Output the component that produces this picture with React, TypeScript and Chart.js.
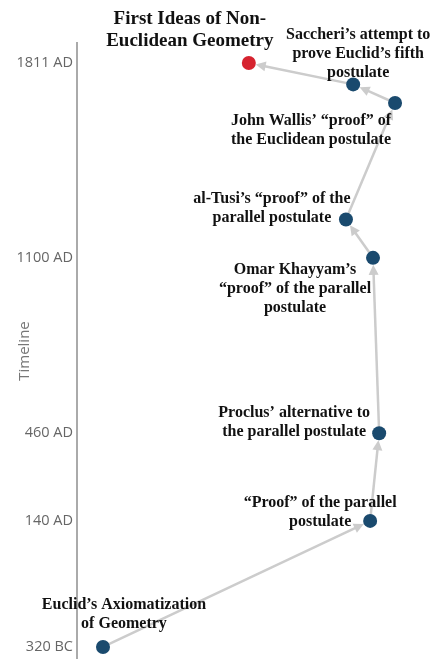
import React, { useEffect, useRef } from "react";
import { Chart, registerables } from "chart.js";

Chart.register(...registerables);

const events = [
  "Euclid’s Axiomatization|of Geometry",
  "“Proof” of the parallel|postulate",
  "Proclus’ alternative to|the parallel postulate",
  "Omar Khayyam’s|“proof” of the parallel|postulate",
  "al-Tusi’s “proof” of the|parallel postulate",
  "John Wallis’ “proof” of|the Euclidean postulate",
  "Saccheri’s attempt to|prove Euclid’s fifth|postulate",
  "First Ideas of Non-|Euclidean Geometry",
];
const years = [-320, 140, 460, 1100, 1240, 1665, 1733, 1811];
const xPos = [7.2, 81.2, 83.7, 82.0, 74.5, 88.1, 76.5, 47.6];
const tickYears = [-320, 140, 460, 1100, 1811];

// label layout: offset of first-line center from point (px)
const labelDx = [21, -50, -85, -78, -74, -84, 5, -59];
const labelDy = [-42, -18, -20, 12, -21, 18, -50, -44];

const BLUE = "#1a4a6e";
const RED = "#d6232f";

export default function App() {
  const ref = useRef<HTMLCanvasElement | null>(null);
  useEffect(() => {
    document.body.style.margin = "0";
    const canvas = ref.current!;
    const data = years.map((y, i) => ({ x: xPos[i], y }));
    const arrowPlugin = {
      id: "arrows",
      beforeDatasetsDraw(chart: any) {
        const ctx = chart.ctx;
        const meta = chart.getDatasetMeta(0);
        ctx.save();
        ctx.strokeStyle = "#cccccc";
        ctx.fillStyle = "#cccccc";
        ctx.lineWidth = 2.5;
        for (let i = 0; i < meta.data.length - 1; i++) {
          const a = meta.data[i];
          const b = meta.data[i + 1];
          const dx = b.x - a.x;
          const dy = b.y - a.y;
          const len = Math.hypot(dx, dy);
          const ux = dx / len;
          const uy = dy / len;
          const ex = b.x - ux * 7;
          const ey = b.y - uy * 7;
          const hl = 10;
          const hw = 5;
          ctx.beginPath();
          ctx.moveTo(a.x, a.y);
          ctx.lineTo(ex - ux * hl * 0.8, ey - uy * hl * 0.8);
          ctx.stroke();
          ctx.beginPath();
          ctx.moveTo(ex, ey);
          ctx.lineTo(ex - ux * hl - uy * hw, ey - uy * hl + ux * hw);
          ctx.lineTo(ex - ux * hl + uy * hw, ey - uy * hl - ux * hw);
          ctx.closePath();
          ctx.fill();
        }
        ctx.restore();
      },
      afterDatasetsDraw(chart: any) {
        const ctx = chart.ctx;
        const meta = chart.getDatasetMeta(0);
        ctx.save();
        ctx.fillStyle = "#111111";
        ctx.textAlign = "center";
        ctx.textBaseline = "middle";
        meta.data.forEach((p: any, i: number) => {
          const isTitle = i === events.length - 1;
          const fs = isTitle ? 19 : 16;
          const lh = isTitle ? 22 : 19;
          ctx.font = `bold ${fs}px "Liberation Serif", "Times New Roman", serif`;
          events[i].split("|").forEach((line, k) => {
            ctx.fillText(line, p.x + labelDx[i], p.y + labelDy[i] + k * lh);
          });
        });
        ctx.restore();
      },
    };
    const chart = new Chart(canvas, {
      type: "scatter",
      data: {
        datasets: [
          {
            data,
            pointRadius: 7,
            pointHoverRadius: 7,
            pointBorderWidth: 0,
            pointBackgroundColor: years.map((_, i) => (i === years.length - 1 ? RED : BLUE)),
            showLine: false,
            clip: false,
          },
        ],
      },
      options: {
        responsive: false,
        animation: false,
        layout: { autoPadding: false, padding: { top: 43, right: 0, bottom: 0, left: 0 } },
        plugins: { legend: { display: false }, tooltip: { enabled: false } },
        scales: {
          x: { type: "linear", min: 0, max: 100, display: false },
          y: {
            type: "linear",
            min: -364,
            max: 1884,
            afterBuildTicks: (s: any) => {
              s.ticks = tickYears.map((v) => ({ value: v }));
            },
            afterFit: (s: any) => {
              s.width = 77;
              s.paddingTop = 0;
              s.paddingBottom = 0;
            },
            ticks: {
              autoSkip: false,
              padding: 4,
              color: "#666666",
              font: { family: "'Open Sans', sans-serif", size: 14.5 },
              callback: (v: any) => (v < 0 ? `${-v} BC` : `${v} AD`),
            },
            grid: { display: false, drawTicks: false },
            border: { display: true, color: "#aaaaaa", width: 2 },
            title: {
              display: true,
              text: "Timeline",
              color: "#777777",
              font: { family: "'Open Sans', sans-serif", size: 15 },
              padding: { top: 16, bottom: 0 },
            },
          },
        },
      },
      plugins: [arrowPlugin],
    });
    return () => chart.destroy();
  }, []);
  return (
    <div style={{ position: "absolute", left: 0, top: 0, width: 438, height: 659 }}>
      <canvas ref={ref} width={438} height={659} />
    </div>
  );
}
